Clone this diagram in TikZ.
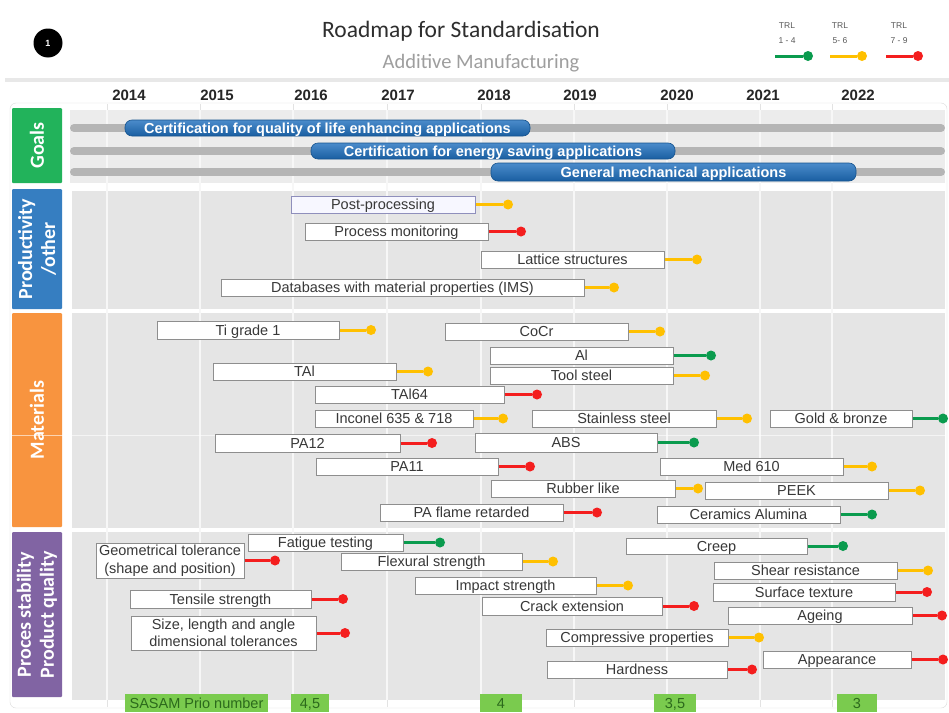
\documentclass[tikz,border=0pt]{standalone}
\usepackage{fontspec}
\setmainfont{Liberation Sans}
\newfontfamily\calibri{Carlito}

\definecolor{trlgreen}{HTML}{0A9B4E}
\definecolor{trlyellow}{HTML}{FFC000}
\definecolor{trlred}{HTML}{F41E1E}
\definecolor{goalgreen}{HTML}{22B35B}
\definecolor{prodblue}{HTML}{367EC1}
\definecolor{matorange}{HTML}{F8943F}
\definecolor{qualpurple}{HTML}{8164A3}
\definecolor{barblue}{HTML}{1E6FBE}
\definecolor{bandgray}{HTML}{E5E5E5}
\definecolor{goalgray}{HTML}{ECECEC}
\definecolor{tracegray}{HTML}{B5B5B5}
\definecolor{boxedge}{HTML}{8E8E8E}
\definecolor{priogreen}{HTML}{7ACB4E}
\definecolor{priotext}{HTML}{2C6A1C}

\tikzset{
  taskbox/.style={draw=boxedge, line width=1pt, fill=white, inner sep=0pt,
    align=center, text=black!78, font=\fontsize{14.5}{17.5}\selectfont,
    text height=10.4pt, text depth=0pt},
  twoline/.style={text height={}, text depth={}},
  taskextra/.style={},
  trldot/.style={circle, inner sep=0pt, minimum size=10pt},
  trlline/.style={line width=3pt},
  goalbar/.style={rounded corners=7pt, top color=barblue!80!white,
    bottom color=barblue!85!black, draw=barblue!75!black, line width=0.6pt,
    text=white, inner sep=0pt, text height=10.4pt, text depth=0pt,
    font=\bfseries\fontsize{14.5}{15}\selectfont},
  goaltrace/.style={tracegray, line width=8pt, line cap=round},
  sectionbox/.style={rotate=90, inner sep=0pt, text=white, align=center,
    rounded corners=1pt, font=\calibri\bfseries\fontsize{20}{23}\selectfont},
  yearlabel/.style={anchor=base, text=black!85, font=\bfseries\fontsize{15}{16}\selectfont},
  legendtxt/.style={align=center, text=black!65, font=\fontsize{8.5}{15}\selectfont},
  priobox/.style={fill=priogreen, inner sep=0pt, minimum height=18pt,
    text height=10.4pt, text depth=0pt,
    text=priotext, font=\fontsize{14.5}{15}\selectfont},
}

% task box with its TRL connector and end dot
% #1 name, #2 left, #3 right, #4 top, #5 bottom, #6 label, #7 TRL colour, #8 dot x
\newcommand\trltask[8]{%
  \node[taskbox, taskextra, minimum width={(#3)-(#2)}, minimum height={(#5)-(#4)}]
    (#1) at ({((#2)+(#3))/2},{((#4)+(#5))/2}) {#6};
  \node[trldot, fill=#7] (#1-dot) at (#8,{((#4)+(#5))/2}) {};
  \draw[trlline, #7] (#1.east) -- (#1-dot);
}

\begin{document}
\begin{tikzpicture}[x=1pt, y=-1pt]
\useasboundingbox (0,0) rectangle (949,712);
\fill[white] (0,0) rectangle (949,712);

% header
\node[circle, fill=black, minimum size=29pt, inner sep=0pt, text=white,
  font=\bfseries\fontsize{9}{9}\selectfont] (badge) at (48,43) {1};
\node[anchor=base, text=black!82, font=\calibri\fontsize{23.5}{26}\selectfont]
  (title) at (461,37) {Roadmap for Standardisation};
\node[anchor=base, text=black!38, font=\calibri\fontsize{20.5}{24}\selectfont]
  (subtitle) at (481,68) {Additive Manufacturing};

% TRL legend
\node[legendtxt] (trl1) at (787,33) {TRL\\1 - 4};
\node[legendtxt] (trl2) at (840,33) {TRL\\5- 6};
\node[legendtxt] (trl3) at (899,33) {TRL\\7 - 9};
\coordinate (lg1) at (775,56);
\coordinate (lg2) at (830,56);
\coordinate (lg3) at (886,56);
\node[trldot, fill=trlgreen] (lg1-dot) at (808,56) {};
\node[trldot, fill=trlyellow] (lg2-dot) at (862,56) {};
\node[trldot, fill=trlred] (lg3-dot) at (918,56) {};
\draw[trlline, trlgreen] (lg1) -- (lg1-dot);
\draw[trlline, trlyellow] (lg2) -- (lg2-dot);
\draw[trlline, trlred] (lg3) -- (lg3-dot);

\draw[gray!18, line width=4pt] (5,80) -- (949,80);

% years
\foreach \yr/\xx in {2014/129,2015/217,2016/311,2017/398,2018/494,2019/580,2020/677,2021/763,2022/858}
  \node[yearlabel] (y\yr) at (\xx,100) {\yr};

% chart panel and section bands
\draw[gray!28, fill=white, rounded corners=6pt] (10,103) rectangle (947,708);
\foreach \xx in {107,200,293,387,481,574,667,760,832}
  \draw[gray!22, line width=1pt] (\xx,104) -- (\xx,707);
\fill[goalgray] (70,110) rectangle (945,183);
\fill[bandgray] (72,191) rectangle (945,309);
\fill[bandgray] (72,313) rectangle (945,528);
\fill[bandgray] (72,532) rectangle (945,700);
\foreach \xx in {107,200,293,387,481,574,667,760,832}
  \draw[white!70!bandgray, line width=1.2pt] (\xx,110) -- (\xx,700);

% section labels
\node[sectionbox, fill=goalgreen, minimum width=75pt, minimum height=50pt] (goals) at (37,145.5) {Goals};
\node[sectionbox, fill=prodblue, minimum width=120pt, minimum height=50pt] (prod) at (37,249) {Productivity\\/other};
\node[sectionbox, fill=matorange, minimum width=214pt, minimum height=50pt] (mat) at (37,420) {Materials};
\node[sectionbox, fill=qualpurple, minimum width=165pt, minimum height=50pt] (qual) at (37,614.5) {Proces stability\\Product quality};
\draw[white, line width=0.8pt, opacity=0.6] (12,435) -- (945,435);

% goals
\draw[goaltrace] (74,128) -- (941,128);
\draw[goaltrace] (74,151) -- (941,151);
\draw[goaltrace] (74,172) -- (941,172);
\node[goalbar, minimum width=405pt, minimum height=16pt] (goal1) at (327.5,128)
  {Certification for quality of life enhancing applications};
\node[goalbar, minimum width=364pt, minimum height=16pt] (goal2) at (493,151)
  {Certification for energy saving applications};
\node[goalbar, minimum width=365pt, minimum height=18pt] (goal3) at (673.5,172)
  {General mechanical applications};

% productivity / other
\node[taskbox, fill=blue!3, draw=blue!25!gray!70, minimum width=184pt, minimum height=17pt]
  (post) at (383,204.5) {Post-processing};
\node[trldot, fill=trlyellow] (post-dot) at (508,204.5) {};
\draw[trlline, trlyellow] (post.east) -- (post-dot);
\trltask{monitor}{305}{488}{223}{240}{Process monitoring}{trlred}{521}
\trltask{lattice}{481}{664}{251}{268}{Lattice structures}{trlyellow}{697}
\trltask{database}{221}{584}{279}{296}{Databases with material properties (IMS)}{trlyellow}{614}

% materials
\trltask{tigrade}{157}{339}{321}{339}{Ti grade 1}{trlyellow}{371}
\trltask{cocr}{445}{628}{323}{340}{CoCr}{trlyellow}{660}
\trltask{al}{490}{673}{347}{364}{Al}{trlgreen}{711}
\trltask{tal}{213}{396}{363}{380}{TAl}{trlyellow}{428}
\trltask{toolsteel}{490}{673}{367}{384}{Tool steel}{trlyellow}{705}
\trltask{tal64}{315}{504}{386}{403}{TAl64}{trlred}{537}
\trltask{inconel}{315}{473}{410}{427}{Inconel 635 \& 718}{trlyellow}{503}
\trltask{stainless}{532}{716}{410}{427}{Stainless steel}{trlyellow}{747}
\trltask{gold}{770}{912}{410}{427}{Gold \& bronze}{trlgreen}{943}
\trltask{pa12}{215}{400}{434}{452}{PA12}{trlred}{432}
\trltask{abs}{475}{657}{433}{452}{ABS}{trlgreen}{694}
\trltask{pa11}{316}{498}{458}{475}{PA11}{trlred}{530}
\trltask{med}{660}{843}{458}{475}{Med 610}{trlyellow}{872}
\trltask{rubber}{491}{675}{480}{497}{Rubber like}{trlyellow}{698}
\trltask{peek}{705}{888}{482}{499}{PEEK}{trlyellow}{920}
\trltask{paflame}{380}{563}{504}{521}{PA flame retarded}{trlred}{597}
\trltask{ceramics}{657}{840}{506}{523}{Ceramics Alumina}{trlgreen}{872}

% process stability / product quality
\trltask{fatigue}{248}{403}{534}{551}{Fatigue testing}{trlgreen}{440}
\begin{scope}[taskextra/.style={twoline}]
\trltask{geom}{96}{244}{543}{578}{Geometrical tolerance\\(shape and position)}{trlred}{275}
\trltask{sizetol}{131}{316}{616}{650}{Size, length and angle\\dimensional tolerances}{trlred}{345}
\end{scope}
\trltask{flexural}{341}{522}{553}{570}{Flexural strength}{trlyellow}{553}
\trltask{impact}{415}{596}{577}{594}{Impact strength}{trlyellow}{628}
\trltask{tensile}{130}{311}{590}{608}{Tensile strength}{trlred}{343}
\trltask{crack}{482}{662}{597}{615}{Crack extension}{trlred}{694}
\trltask{creep}{626}{807}{538}{554}{Creep}{trlgreen}{843}
\trltask{shear}{714}{897}{562}{579}{Shear resistance}{trlyellow}{928}
\trltask{surface}{713}{895}{583}{601}{Surface texture}{trlred}{927}
\trltask{ageing}{728}{912}{607}{624}{Ageing}{trlred}{942}
\trltask{compress}{546}{728}{629}{646}{Compressive properties}{trlyellow}{759}
\trltask{appearance}{763}{911}{651}{668}{Appearance}{trlred}{943}
\trltask{hardness}{547}{727}{661}{678}{Hardness}{trlred}{752}

% SASAM priority numbers
\node[priobox, minimum width=143pt] (prio) at (196.5,703) {SASAM Prio number};
\node[priobox, minimum width=38pt] (prio45) at (310,703) {4,5};
\node[priobox, minimum width=42pt] (prio4) at (501,703) {4};
\node[priobox, minimum width=42pt] (prio35) at (675,703) {3,5};
\node[priobox, minimum width=40pt] (prio3) at (857,703) {3};
\end{tikzpicture}
\end{document}
